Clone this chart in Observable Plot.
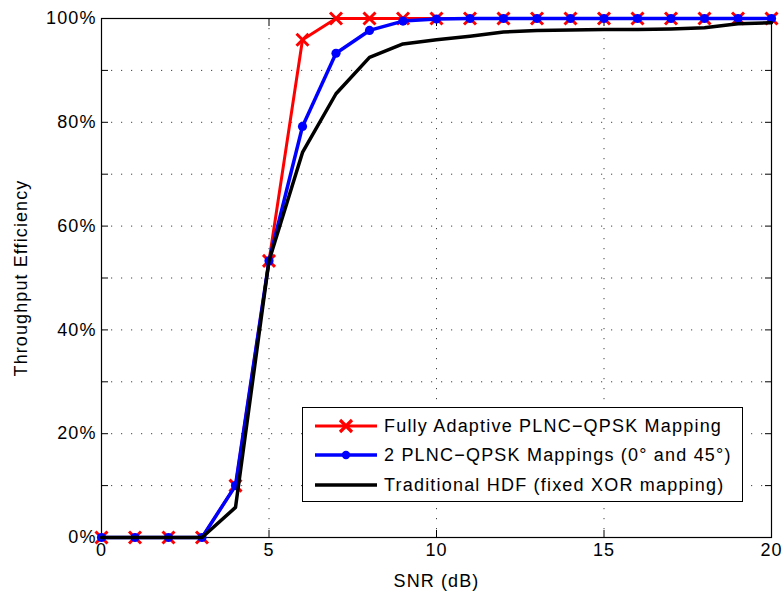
<!DOCTYPE html>
<html><head><meta charset="utf-8">
<script src="https://cdn.jsdelivr.net/npm/d3@7"></script>
<script src="https://cdn.jsdelivr.net/npm/@observablehq/plot@0.6"></script>
<style>
body{margin:0;background:#fff;}
#wrap{position:relative;width:784px;height:591px;}
.legend{position:absolute;left:302px;top:407px;width:441px;height:95px;border:1px solid #000;background:#fff;
  font-family:"Liberation Sans",Arial,sans-serif;font-size:18px;letter-spacing:1.2px;color:#000;box-sizing:border-box;}
.row{position:absolute;left:0;height:24px;display:flex;align-items:center;white-space:nowrap;}
.row svg{margin-left:11px;margin-right:6px;}
</style>
</head><body>
<div id="wrap"></div>
<script>
const snr = [0,1,2,3,4,5,6,7,8,9,10,11,12,13,14,15,16,17,18,19,20];
const adaptive = [0,0,0,0,10,53.3,95.9,100,100,100,100,100,100,100,100,100,100,100,100,100,100];
const twoMappings = [0,0,0,0,10,53.3,79.2,93.3,97.7,99.5,99.9,100,100,100,100,100,100,100,100,100,100];
const hdf = [0,0,0,0,5.8,53.3,74.2,85.5,92.5,95.1,95.9,96.6,97.4,97.7,97.8,97.9,97.9,98.0,98.2,99.0,99.2];
const seriesNames = ["Fully Adaptive PLNC\u2212QPSK Mapping", "2 PLNC\u2212QPSK Mappings (0\u00B0 and 45\u00B0)", "Traditional HDF (fixed XOR mapping)"];
const xTickValues = [0,5,10,15,20];
const xGridValues = [5,10,15];
const yLabelValues = [0,20,40,60,80,100];
const yTickValues = [0,10,20,30,40,50,60,70,80,90,100];
const yGridValues = [10,20,30,40,50,60,70,80,90];

const toRows = vals => snr.map((x,i)=>({x, y: vals[i]}));
const red = toRows(adaptive), blue = toRows(twoMappings), black = toRows(hdf);
const blank = () => "";
const gridStyle = {stroke:"#000", strokeOpacity:0.75, strokeDasharray:"1.2,8.8"};

const chart = Plot.plot({
  width:784, height:591,
  marginLeft:101, marginRight:13, marginTop:18, marginBottom:54,
  style:{fontFamily:'"Liberation Sans", Arial, sans-serif', fontSize:"18px", letterSpacing:"1.1px", color:"#000", background:"#fff"},
  x:{domain:[0,20]},
  y:{domain:[0,100]},
  marks:[
    Plot.gridX(xGridValues, gridStyle),
    Plot.gridY(yGridValues, gridStyle),
    Plot.axisX(xTickValues, {tickSize:0, tickPadding:6, label:"SNR (dB)", labelAnchor:"center", labelArrow:"none", labelOffset:49}),
    Plot.axisX(xTickValues, {tickSize:-7, tickFormat:blank, label:null}),
    Plot.axisX(xTickValues, {anchor:"top", tickSize:-7, tickFormat:blank, label:null}),
    Plot.axisY(yLabelValues, {tickSize:0, tickPadding:5, tickFormat:d=>d+"%", label:"Throughput Efficiency", labelAnchor:"center", labelArrow:"none", labelOffset:87}),
    Plot.axisY(yTickValues, {tickSize:-7, tickFormat:blank, label:null}),
    Plot.axisY(yTickValues, {anchor:"right", tickSize:-7, tickFormat:blank, label:null}),
    Plot.frame({stroke:"#000", strokeWidth:1.2}),
    Plot.line(red, {x:"x", y:"y", stroke:"#ff0000", strokeWidth:3}),
    Plot.dot(red, {x:"x", y:"y", symbol:"times", r:5.5, stroke:"#ff0000", strokeWidth:3}),
    Plot.line(blue, {x:"x", y:"y", stroke:"#0000ff", strokeWidth:3.5}),
    Plot.dot(blue, {x:"x", y:"y", r:4.6, fill:"#0000ff", stroke:"none"}),
    Plot.line(black, {x:"x", y:"y", stroke:"#000", strokeWidth:3.5})
  ]
});
const wrap = document.getElementById("wrap");
wrap.appendChild(chart);

// legend
const legend = document.createElement("div");
legend.className = "legend";
const samples = [
  `<line x1="1" y1="12" x2="63" y2="12" stroke="#ff0000" stroke-width="3"/><path d="M26,6L38,18M38,6L26,18" stroke="#ff0000" stroke-width="3.2"/>`,
  `<line x1="1" y1="12" x2="63" y2="12" stroke="#0000ff" stroke-width="3.5"/><circle cx="32" cy="12" r="4.2" fill="#0000ff"/>`,
  `<line x1="1" y1="12" x2="63" y2="12" stroke="#000" stroke-width="3.5"/>`
];
const rowTops = [6, 35, 65];
seriesNames.forEach((name,i)=>{
  const row = document.createElement("div");
  row.className = "row";
  row.style.top = rowTops[i] + "px";
  row.innerHTML = `<svg width="64" height="24">${samples[i]}</svg><span></span>`;
  row.querySelector("span").textContent = name;
  legend.appendChild(row);
});
wrap.appendChild(legend);
</script>
</body></html>
